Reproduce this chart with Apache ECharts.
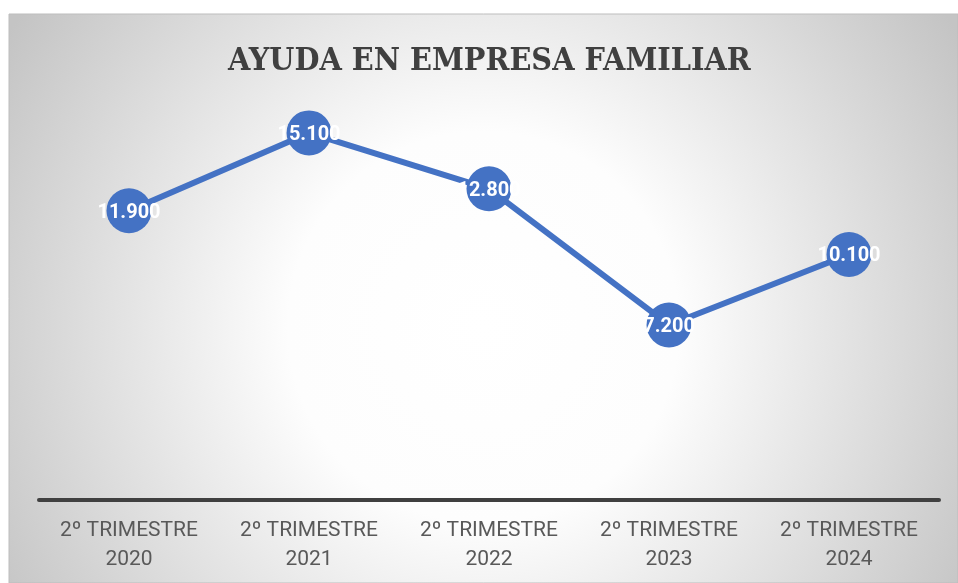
<!DOCTYPE html>
<html>
<head>
<meta charset="utf-8">
<script src="https://cdn.jsdelivr.net/npm/echarts@6/dist/echarts.min.js"></script>
<style>
html,body{margin:0;padding:0;background:#ffffff;}
#c{width:958px;height:583px;}
</style>
</head>
<body>
<div id="c"></div>
<script>
const categories = ['2º TRIMESTRE\n2020','2º TRIMESTRE\n2021','2º TRIMESTRE\n2022','2º TRIMESTRE\n2023','2º TRIMESTRE\n2024'];
const values = [11900, 15100, 12800, 7200, 10100];
const titleText = 'AYUDA EN EMPRESA FAMILIAR';

function fmt(v){
  return String(v).replace(/\B(?=(\d{3})+(?!\d))/g, '.');
}

const chart = echarts.init(document.getElementById('c'), null, {renderer:'canvas'});
chart.setOption({
  animation:false,
  backgroundColor:'#ffffff',
  graphic:[{
    type:'rect', z:-10, silent:true,
    shape:{x:9, y:14, width:949, height:569},
    style:{
      fill:new echarts.graphic.RadialGradient(0.5,0.55,0.98,[
        {offset:0,color:'#ffffff'},
        {offset:0.35,color:'#fdfdfd'},
        {offset:1,color:'#c4c4c4'}
      ]),
      stroke:'#bdbdbd', lineWidth:1
    }
  }],
  title:{
    text:titleText,
    left:228, top:46, padding:0,
    textStyle:{fontFamily:'DejaVu Serif Condensed', fontWeight:'bold', fontSize:32, color:'#404040'}
  },
  grid:{left:39, width:900, top:111, bottom:83},
  xAxis:{
    type:'category', data:categories, boundaryGap:true,
    axisLine:{show:true, lineStyle:{color:'#404040', width:4}},
    axisTick:{show:false},
    axisLabel:{fontFamily:'Roboto', fontSize:21, color:'#595959', lineHeight:29, margin:16}
  },
  yAxis:{
    type:'value', min:0, max:16000, show:false,
    splitLine:{show:false}
  },
  series:[{
    type:'line', data:values,
    symbol:'circle', symbolSize:45,
    lineStyle:{color:'#4472C4', width:6},
    itemStyle:{color:'#4472C4'},
    label:{show:true, position:'inside', offset:[0,2], formatter:p=>fmt(p.value),
      fontFamily:'Roboto', fontWeight:'bold', fontSize:20, color:'#ffffff'}
  }]
});
</script>
</body>
</html>
